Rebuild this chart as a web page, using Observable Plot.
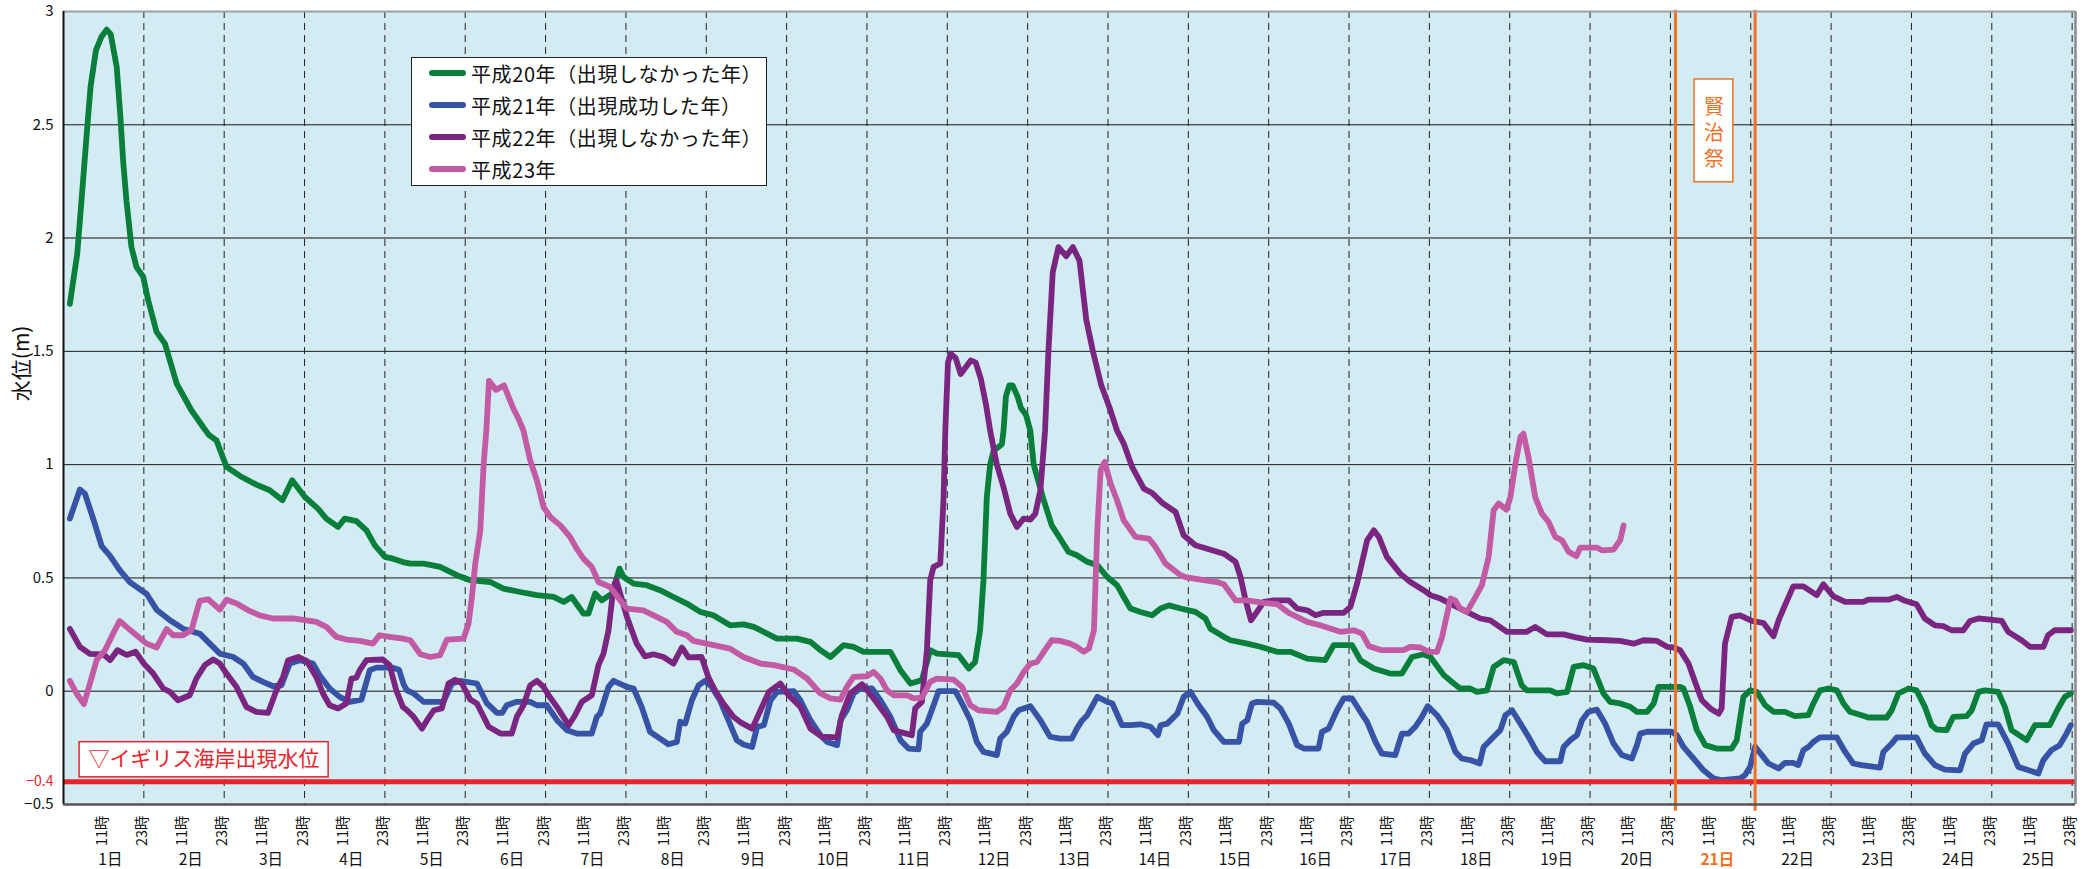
<!DOCTYPE html>
<html><head><meta charset="utf-8">
<script src="https://cdn.jsdelivr.net/npm/d3@7"></script>
<script src="https://cdn.jsdelivr.net/npm/@observablehq/plot@0.6"></script>
<style>
body{margin:0;background:#fff;}
#wrap{position:relative;width:2091px;height:869px;overflow:hidden;}
#legend{position:absolute;left:411px;top:57px;width:354px;height:127px;background:#fff;border:1.5px solid #222;font-family:"Noto Sans CJK JP",sans-serif;font-size:20px;letter-spacing:0.6px;color:#111;}
#legend .row{position:absolute;left:0;height:30px;display:flex;align-items:center;white-space:nowrap;}
#legend .sw{width:37px;height:6px;border-radius:3px;margin-left:17px;margin-right:5px;}
</style>
</head><body>
<div id="wrap"><div id="legend"></div></div>
<script>
// ---- data: [hour since day-1 0時, water level (m)] ----
const h20 = [[1.9,1.71],[4.1,1.93],[5.4,2.17],[7.1,2.49],[8.1,2.67],[9.7,2.83],[11.4,2.89],[12.9,2.92],[14.1,2.90],[15.9,2.755],[17.0,2.535],[17.8,2.343],[18.8,2.166],[20.3,1.96],[21.8,1.872],[23.8,1.83],[25.3,1.725],[27.8,1.586],[30.3,1.534],[33.8,1.358],[38.2,1.24],[41.7,1.166],[43.5,1.13],[45.7,1.107],[48.7,0.99],[52.7,0.95],[57.6,0.912],[61.6,0.887],[65.4,0.843],[68.3,0.931],[72.1,0.857],[76.0,0.806],[78.5,0.762],[82,0.725],[84,0.762],[87.5,0.751],[90.5,0.71],[93,0.644],[96,0.593],[98.4,0.585],[101.4,0.57],[103.6,0.563],[107.6,0.563],[112.5,0.549],[117.5,0.512],[121.5,0.49],[127.5,0.482],[131.4,0.453],[136.4,0.438],[141.4,0.424],[146.4,0.416],[149.4,0.394],[151.8,0.416],[155.3,0.343],[156.8,0.343],[158.8,0.431],[160.8,0.401],[163.8,0.431],[166.1,0.541],[167.3,0.504],[170.3,0.475],[174.2,0.468],[178.2,0.446],[182.2,0.416],[186.2,0.387],[190.2,0.35],[194.1,0.335],[199.1,0.291],[203.1,0.295],[206.2,0.284],[210.2,0.254],[213.1,0.232],[219.1,0.232],[223.1,0.218],[226.1,0.181],[229.1,0.151],[233.0,0.203],[236.0,0.196],[239.0,0.174],[247.0,0.174],[250.0,0.093],[253.0,0.034],[256.4,0.049],[258.9,0.181],[260.9,0.166],[267.4,0.159],[270.4,0.1],[272.3,0.129],[273.8,0.269],[274.8,0.49],[275.8,0.857],[276.8,1.0],[277.8,1.06],[280.3,1.09],[280.8,1.15],[281.5,1.3],[282.5,1.35],[283.5,1.35],[285,1.3],[286,1.25],[287.5,1.22],[288.8,1.15],[289.8,1.0],[292.8,0.843],[295.2,0.732],[297.7,0.674],[300.2,0.615],[302.7,0.6],[305.8,0.571],[308.8,0.556],[311.8,0.504],[314.7,0.468],[316.7,0.416],[318.7,0.365],[321.7,0.35],[325.2,0.335],[327.7,0.365],[330.2,0.379],[333.7,0.365],[338.1,0.35],[341.1,0.321],[342.6,0.276],[346.6,0.24],[348.6,0.225],[353.6,0.21],[357.5,0.196],[362.5,0.174],[366.5,0.174],[371.5,0.144],[376.9,0.137],[379.4,0.203],[384.9,0.203],[387.4,0.137],[391.4,0.1],[396.3,0.078],[399.8,0.078],[402.8,0.151],[406.3,0.163],[408.3,0.151],[412.3,0.071],[415.3,0.034],[417.2,0.012],[420.2,0.012],[422.2,-0.003],[425.2,0.004],[427.2,0.107],[430.2,0.137],[433.2,0.129],[435.6,0.026],[437.1,0.004],[444.1,0.004],[446.1,-0.01],[449.1,-0.003],[451.1,0.107],[454.1,0.115],[457.0,0.1],[460.0,-0.01],[462.0,-0.047],[465.0,-0.054],[468.0,-0.069],[470.0,-0.091],[473.0,-0.091],[475.0,-0.054],[476.4,0.019],[482.9,0.019],[483.9,0.012],[485.9,-0.069],[487.9,-0.172],[490.4,-0.238],[493.8,-0.253],[498.3,-0.253],[499.8,-0.216],[501.8,-0.025],[503.8,0.004],[505.8,-0.003],[508.3,-0.062],[510.8,-0.091],[514.2,-0.091],[517.2,-0.11],[521.2,-0.106],[522.7,-0.054],[524.7,0.004],[527.2,0.012],[529.7,0.004],[531.7,-0.054],[533.6,-0.091],[537.1,-0.106],[539.1,-0.116],[544.6,-0.116],[546.1,-0.084],[548.1,-0.01],[551.1,0.012],[553.5,0.004],[556.0,-0.069],[558.0,-0.15],[559.5,-0.169],[562.5,-0.172],[564.5,-0.113],[568.5,-0.11],[570.0,-0.084],[572.0,-0.003],[574.0,0.004],[577.9,-0.003],[579.9,-0.069],[581.9,-0.172],[586.4,-0.216],[588.9,-0.15],[593.3,-0.15],[595.8,-0.076],[597.8,-0.025],[599.6,-0.01]];

const h21 = [[1.9,0.762],[4.9,0.89],[6.4,0.872],[8.9,0.76],[11.4,0.64],[13.9,0.597],[16.8,0.534],[19.8,0.482],[24.8,0.43],[27.8,0.36],[31.8,0.313],[35.7,0.276],[40.7,0.254],[43.7,0.21],[46.7,0.166],[50.7,0.151],[53.7,0.122],[56.6,0.063],[59.6,0.041],[62.6,0.022],[65.1,0.026],[67.6,0.122],[70.6,0.137],[74.5,0.122],[76.5,0.071],[79.5,0.012],[82.5,-0.025],[85.5,-0.047],[89,-0.037],[91.5,0.093],[93.5,0.104],[98.4,0.104],[100.2,0.095],[101.6,0.03],[102.6,0.004],[104.6,-0.01],[107.6,-0.047],[113.5,-0.047],[116.0,0.034],[118.5,0.046],[123.5,0.034],[126.5,-0.054],[129.5,-0.096],[131.0,-0.096],[132.4,-0.062],[135.4,-0.047],[139.4,-0.047],[141.4,-0.062],[144.4,-0.062],[147.4,-0.128],[150.4,-0.172],[153.3,-0.187],[157.8,-0.187],[159.3,-0.113],[160.3,-0.099],[162.8,0.019],[164.3,0.046],[168.3,0.019],[170.3,0.012],[172.7,-0.069],[175.2,-0.179],[178.2,-0.209],[180.7,-0.234],[183.2,-0.224],[184.2,-0.135],[185.7,-0.143],[187.7,-0.04],[189.7,0.026],[191.6,0.046],[193.6,0.019],[196.1,-0.04],[198.6,-0.128],[201.1,-0.216],[203.1,-0.235],[205.7,-0.246],[207.2,-0.157],[209.2,-0.15],[211.2,-0.04],[213.1,-0.003],[218.1,0],[220.1,-0.04],[223.1,-0.128],[226.1,-0.194],[228.1,-0.224],[231.1,-0.238],[232.1,-0.128],[234.0,-0.084],[236.0,-0.01],[238.0,0.012],[241.5,0.012],[244.0,-0.04],[247.0,-0.113],[250.0,-0.216],[252.4,-0.253],[255.4,-0.257],[255.9,-0.179],[257.9,-0.143],[259.9,-0.062],[261.4,0],[266.4,0],[268.4,-0.054],[270.9,-0.128],[272.8,-0.224],[274.8,-0.268],[278.8,-0.282],[279.8,-0.209],[281.8,-0.179],[283.8,-0.113],[285.3,-0.084],[288.8,-0.066],[291.8,-0.128],[294.7,-0.201],[297.7,-0.209],[301.2,-0.209],[302.7,-0.165],[304.2,-0.13],[305.8,-0.106],[308.8,-0.025],[311.8,-0.047],[313.3,-0.054],[316.2,-0.15],[318.7,-0.15],[321.7,-0.146],[324.7,-0.157],[326.9,-0.194],[327.7,-0.15],[329.7,-0.143],[332.7,-0.099],[334.6,-0.025],[336.6,-0.003],[339.1,-0.062],[341.6,-0.113],[343.6,-0.172],[346.6,-0.224],[351.1,-0.224],[352.1,-0.143],[353.6,-0.128],[355.0,-0.054],[356.5,-0.047],[361.5,-0.051],[363.5,-0.076],[366.0,-0.143],[368.5,-0.238],[370.5,-0.253],[374.9,-0.253],[375.9,-0.179],[377.9,-0.165],[380.4,-0.084],[382.4,-0.032],[384.9,-0.032],[387.4,-0.091],[389.4,-0.135],[391.9,-0.224],[393.8,-0.275],[397.8,-0.282],[399.8,-0.187],[401.8,-0.187],[403.8,-0.157],[405.5,-0.12],[407.5,-0.066],[410.3,-0.106],[413.3,-0.172],[415.8,-0.268],[417.7,-0.297],[420.2,-0.304],[423.0,-0.319],[424.2,-0.246],[425.7,-0.224],[427.2,-0.201],[429.2,-0.172],[430.7,-0.106],[432.7,-0.084],[435.2,-0.143],[437.6,-0.201],[440.1,-0.268],[442.6,-0.309],[447.1,-0.309],[448.1,-0.246],[450.1,-0.216],[452.1,-0.194],[453.6,-0.128],[455.5,-0.091],[458.0,-0.081],[460.5,-0.143],[463.0,-0.231],[465.5,-0.282],[468.5,-0.297],[470.0,-0.238],[471.0,-0.187],[473.0,-0.179],[480.4,-0.179],[481.9,-0.194],[483.9,-0.246],[486.9,-0.297],[489.9,-0.349],[492.9,-0.385],[495.4,-0.393],[500.8,-0.385],[502.3,-0.37],[503.8,-0.334],[505.3,-0.245],[507.3,-0.282],[509.3,-0.319],[512.3,-0.341],[514.2,-0.316],[516.7,-0.316],[518.2,-0.326],[519.7,-0.26],[521.2,-0.246],[522.7,-0.224],[524.7,-0.204],[529.7,-0.204],[532.2,-0.268],[534.6,-0.319],[537.1,-0.326],[542.6,-0.337],[543.6,-0.268],[546.1,-0.231],[547.6,-0.204],[553.5,-0.204],[556.0,-0.275],[559.0,-0.326],[562.0,-0.346],[566.5,-0.349],[568.0,-0.275],[570.5,-0.231],[573.0,-0.216],[574.4,-0.146],[577.9,-0.146],[580.9,-0.231],[583.9,-0.334],[585.4,-0.341],[589.9,-0.363],[591.4,-0.304],[593.8,-0.26],[596.3,-0.238],[598.3,-0.187],[599.6,-0.15]];

const h22 = [[1.9,0.275],[4.9,0.196],[7.9,0.165],[11.9,0.163],[13.9,0.137],[16.1,0.181],[18.9,0.16],[21.5,0.174],[24.1,0.12],[26.8,0.078],[29.8,0.012],[31.8,-0.003],[34.2,-0.04],[37.7,-0.018],[39.7,0.056],[42.2,0.115],[44.7,0.14],[46.7,0.122],[48.7,0.078],[51.7,0.019],[54.6,-0.069],[57.6,-0.091],[61.1,-0.096],[63.6,0.004],[65.6,0.063],[67.1,0.137],[70.1,0.151],[72.6,0.134],[75.5,0.063],[77.5,-0.01],[79.5,-0.062],[82.0,-0.076],[84.5,-0.054],[86.0,0.056],[87.5,0.06],[88.5,0.093],[90.5,0.137],[95.4,0.14],[97.4,0.115],[99.4,0.004],[101.4,-0.07],[102.6,-0.084],[104.6,-0.113],[107.1,-0.165],[108.6,-0.128],[110.6,-0.084],[113.0,-0.076],[115.0,0.034],[117.0,0.051],[119.0,0.034],[121.5,-0.037],[123.5,-0.054],[127.0,-0.157],[130.5,-0.187],[133.9,-0.187],[135.4,-0.113],[137.4,-0.062],[139.4,0.026],[141.4,0.046],[143.4,0.019],[144.9,-0.018],[147.4,-0.069],[150.9,-0.15],[152.8,-0.106],[154.8,-0.047],[157.8,-0.018],[159.8,0.115],[161.3,0.166],[162.8,0.269],[164.3,0.46],[165.1,0.49],[166.3,0.431],[168.3,0.328],[171.2,0.21],[173.7,0.154],[176.2,0.163],[179.2,0.151],[182.2,0.122],[184.7,0.193],[186.7,0.149],[190.6,0.151],[192.6,0.063],[194.6,0.004],[197.1,-0.054],[200.1,-0.113],[202.5,-0.14],[205.7,-0.165],[208.2,-0.084],[210.7,-0.003],[214.1,0.034],[216.6,-0.018],[220.1,-0.069],[223.1,-0.165],[226.6,-0.201],[231.1,-0.204],[232.5,-0.106],[235.0,-0.01],[238.5,0.031],[242.0,-0.032],[246.0,-0.113],[248.0,-0.172],[253.4,-0.194],[254.4,-0.076],[256.4,-0.047],[257.9,0.181],[258.9,0.49],[259.9,0.549],[261.9,0.563],[262.9,0.857],[263.4,1.15],[264.2,1.45],[265,1.49],[266.5,1.47],[268,1.4],[269.5,1.43],[271,1.46],[272.5,1.45],[274,1.38],[275.5,1.27],[276.8,1.15],[278.8,1.0],[280.8,0.9],[282.8,0.784],[284.8,0.725],[286.8,0.762],[288.8,0.757],[290.3,0.784],[291.8,0.887],[293.2,1.15],[294.2,1.5],[295.5,1.85],[297.2,1.96],[299.5,1.92],[301.5,1.96],[303.5,1.9],[305.5,1.64],[307.5,1.5],[310,1.35],[312.5,1.25],[314.7,1.15],[316.7,1.093],[319.2,0.99],[322.7,0.894],[325.2,0.875],[328.2,0.831],[332.2,0.791],[334.6,0.688],[338.1,0.644],[341.6,0.629],[346.6,0.607],[350.1,0.571],[351.6,0.504],[353.1,0.401],[354.7,0.313],[356.5,0.35],[358.5,0.394],[361.5,0.401],[366.0,0.401],[368.5,0.365],[371.5,0.357],[374.0,0.335],[376.4,0.346],[382.4,0.346],[384.4,0.372],[386.4,0.475],[389.4,0.666],[391.4,0.71],[392.9,0.681],[395.3,0.593],[399.3,0.519],[402.3,0.482],[406.3,0.446],[408.3,0.424],[411.3,0.409],[416.2,0.372],[419.2,0.35],[423.2,0.321],[426.2,0.313],[431.2,0.262],[437.1,0.262],[439.6,0.284],[443.1,0.251],[448.1,0.251],[451.1,0.24],[455.1,0.228],[461.0,0.225],[465.0,0.222],[469.0,0.21],[472.0,0.225],[476.0,0.222],[479.0,0.196],[480.9,0.193],[482.9,0.181],[485.4,0.122],[487.9,0.019],[489.4,-0.04],[491.9,-0.076],[494.4,-0.099],[495.3,-0.076],[496.3,0.21],[498.3,0.328],[500.8,0.335],[504.3,0.31],[507.8,0.301],[510.8,0.243],[512.3,0.313],[514.2,0.379],[516.7,0.463],[519.7,0.463],[523.7,0.424],[525.7,0.472],[528.7,0.419],[532.2,0.394],[537.6,0.394],[539.1,0.404],[545.1,0.404],[547.6,0.416],[550.1,0.399],[553.5,0.384],[556.0,0.321],[559.0,0.291],[561.5,0.287],[564.0,0.269],[567.5,0.269],[569.5,0.31],[572.0,0.321],[579.0,0.31],[580.9,0.262],[584.9,0.225],[587.4,0.196],[591.4,0.196],[592.8,0.247],[594.8,0.269],[599.6,0.269]];

const h23 = [[1.9,0.046],[3.9,-0.01],[6.1,-0.057],[7.9,0.034],[9.9,0.137],[12.4,0.181],[14.8,0.254],[16.8,0.31],[18.8,0.284],[21.8,0.247],[24.8,0.21],[27.8,0.193],[30.8,0.274],[32.8,0.247],[35.7,0.247],[38.2,0.269],[40.7,0.399],[43.2,0.406],[46.7,0.36],[48.7,0.404],[51.7,0.387],[55.2,0.357],[58.6,0.335],[62.6,0.321],[68.6,0.321],[72.6,0.313],[75.5,0.306],[78.5,0.284],[81.5,0.24],[84.5,0.228],[88.5,0.222],[92.4,0.21],[94.4,0.247],[97.4,0.24],[101.4,0.232],[103.6,0.225],[106.6,0.163],[109.6,0.151],[112.5,0.159],[114.5,0.228],[119.5,0.232],[121.0,0.299],[122.0,0.416],[123.0,0.563],[124.5,0.71],[125.5,1.0],[126.3,1.15],[127.1,1.37],[129.2,1.33],[131.6,1.35],[134.3,1.25],[136,1.2],[137.4,1.15],[139.4,1.019],[141.4,0.931],[143.4,0.813],[145.4,0.769],[148.4,0.732],[151.3,0.681],[153.3,0.629],[155.3,0.585],[157.8,0.549],[159.8,0.482],[163.3,0.46],[166.3,0.401],[168.3,0.365],[173.2,0.357],[177.2,0.328],[180.2,0.306],[183.2,0.262],[186.2,0.247],[188.2,0.222],[192.1,0.21],[199.1,0.188],[203.1,0.151],[208.2,0.122],[212.2,0.115],[218.1,0.096],[222.1,0.056],[226.1,-0.01],[229.1,-0.032],[232.1,-0.037],[234.0,0.019],[236.0,0.063],[240.0,0.066],[242.0,0.085],[244.0,0.056],[246.0,0.004],[248.0,-0.018],[252.0,-0.018],[254.0,-0.032],[256.4,-0.028],[258.9,0.041],[260.9,0.056],[265.9,0.051],[268.4,0.019],[270.9,-0.062],[273.3,-0.084],[278.8,-0.091],[280.8,-0.069],[282.8,0.004],[284.8,0.034],[286.8,0.085],[288.8,0.122],[290.8,0.129],[292.8,0.174],[295.2,0.225],[297.7,0.222],[300.7,0.21],[302.7,0.196],[304.7,0.174],[306.3,0.188],[307.8,0.269],[308.8,0.71],[309.8,0.975],[311.0,1.012],[312.8,0.916],[314.7,0.843],[316.7,0.754],[320.2,0.681],[324.2,0.674],[326.2,0.637],[329.2,0.563],[333.7,0.512],[335.1,0.504],[339.6,0.493],[344.6,0.482],[346.6,0.472],[350.1,0.401],[353.6,0.401],[358.5,0.39],[362.5,0.384],[366.0,0.346],[371.5,0.306],[375.4,0.291],[381.4,0.262],[385.4,0.269],[387.9,0.254],[389.9,0.199],[393.8,0.181],[400.3,0.181],[402.3,0.196],[405.3,0.193],[407.8,0.174],[410.3,0.174],[411.8,0.24],[414.3,0.409],[415.7,0.401],[417.2,0.365],[419.2,0.35],[421.2,0.401],[423.7,0.468],[425.7,0.593],[427.2,0.799],[428.7,0.828],[431.0,0.801],[432.2,0.857],[433.7,1.004],[435.2,1.122],[436.1,1.137],[437.6,1.034],[439.6,0.857],[441.6,0.784],[443.6,0.747],[445.6,0.681],[447.6,0.666],[449.6,0.615],[451.9,0.596],[453.1,0.634],[458.0,0.634],[459.5,0.622],[463.0,0.625],[465.0,0.666],[466.0,0.732]];

const seriesNames = ["平成20年（出現しなかった年）","平成21年（出現成功した年）","平成22年（出現しなかった年）","平成23年"];
const seriesColors = ["#0a7f3c","#3753a6","#7a2680","#c25ba3"];
const yTicks = [3, 2.5, 2, 1.5, 1, 0.5, 0, -0.5];
const yTickLabels = ["3","2.5","2","1.5","1","0.5","0","−0.5"];
const thresholdValue = -0.4;
const thresholdLabel = "▽イギリス海岸出現水位";
const hourLabels = ["11時","23時"];
const dayCount = 25;
const festivalDay = 21;
const festivalHours = [481.5, 505.3];
const festivalLabel = "賢\n治\n祭";

// ---- derived tables ----
const days = d3.range(1, dayCount + 1);
const hourTicks = days.flatMap(d => [{h: (d-1)*24 + 11.5, t: hourLabels[0]}, {h: (d-1)*24 + 23.5, t: hourLabels[1]}]);
const dayLines = d3.range(24, dayCount*24 + 1, 24);
const series = [h20, h21, h22, h23];

const ORANGE = "#f07125", RED = "#e8232b";
const FONT = '"Noto Sans CJK JP", "Noto Sans", sans-serif';

const chart = Plot.plot({
  width: 2091, height: 869,
  marginLeft: 63, marginRight: 16, marginTop: 11, marginBottom: 65,
  x: {domain: [0, 601], axis: null},
  y: {domain: [-0.5, 3], axis: null},
  style: {fontFamily: FONT, background: "white", overflow: "visible"},
  marks: [
    Plot.frame({fill: "#d3ebf2", stroke: null}),
    Plot.ruleY([0.5, 1, 1.5, 2.5], {stroke: "#1a1a1a", strokeWidth: 1}),
    Plot.ruleY([0, 2], {stroke: "#555", strokeWidth: 1.6}),
    Plot.ruleX(dayLines, {stroke: "#222", strokeWidth: 1, strokeDasharray: "7,5"}),
    ...series.map((s, i) => Plot.line(s, {x: d => d[0], y: d => d[1], stroke: seriesColors[i], strokeWidth: 5.8, strokeLinejoin: "round", strokeLinecap: "round"})),
    Plot.ruleY([thresholdValue], {stroke: RED, strokeWidth: 5}),
    Plot.ruleX(festivalHours, {y1: 3.005, y2: -0.53, stroke: ORANGE, strokeWidth: 3}),
    // frame
    Plot.ruleY([3], {stroke: "#a0a0a0", strokeWidth: 2}),
    Plot.ruleX([601], {stroke: "#8a8a8a", strokeWidth: 2.5}),
    Plot.ruleX([0], {stroke: "#111", strokeWidth: 2}),
    Plot.ruleY([-0.5], {stroke: "#555", strokeWidth: 2.5}),
    // festival label
    Plot.rect([0], {x1: 487.2, x2: 498.8, y1: 2.246, y2: 2.70, fill: "white", stroke: ORANGE, strokeWidth: 1.5}),
    Plot.text([festivalLabel], {x: 493, y: 2.47, fill: ORANGE, fontSize: 20, lineHeight: 1.3}),
    // threshold label
    Plot.rect([0], {x1: 4.8, x2: 79.2, y1: -0.225, y2: -0.38, fill: "white", stroke: RED, strokeWidth: 1.5}),
    Plot.text([thresholdLabel], {x: 42, y: -0.302, fill: RED, fontSize: 21}),
    // y tick labels
    Plot.text(yTicks, {frameAnchor: "left", y: d => d, text: (d, i) => yTickLabels[i], textAnchor: "end", dx: -10, fontSize: 15, fill: "#111"}),
    Plot.text([thresholdValue], {frameAnchor: "left", y: d => d, text: () => "−0.4", textAnchor: "end", dx: -10, fontSize: 14, fill: RED}),
    // y title
    Plot.text(["水位(m)"], {frameAnchor: "left", y: 1.28, dx: -41, rotate: -90, fontSize: 21, fill: "#111"}),
    // hour labels
    Plot.text(hourTicks, {x: "h", y: -0.5, text: "t", dy: 11, rotate: -90, textAnchor: "end", fontSize: 14.5, fill: "#111"}),
    // day labels
    Plot.text(days.filter(d => d !== festivalDay), {x: d => (d-1)*24 + 14, y: -0.5, text: d => d + "日", dy: 56, fontSize: 15.5, fill: "#111"}),
    Plot.text([festivalDay], {x: d => (d-1)*24 + 14, y: -0.5, text: d => d + "日", dy: 56, fontSize: 15.5, fill: ORANGE, fontWeight: "bold"})
  ]
});
const wrap = document.getElementById("wrap");
wrap.insertBefore(chart, wrap.firstChild);

const legend = document.getElementById("legend");
seriesNames.forEach((name, i) => {
  const row = document.createElement("div");
  row.className = "row";
  row.style.top = (i * 32 + 0) + "px";
  const sw = document.createElement("span");
  sw.className = "sw"; sw.style.background = seriesColors[i];
  const tx = document.createElement("span");
  tx.textContent = name;
  row.appendChild(sw); row.appendChild(tx);
  legend.appendChild(row);
});
</script>
</body></html>
